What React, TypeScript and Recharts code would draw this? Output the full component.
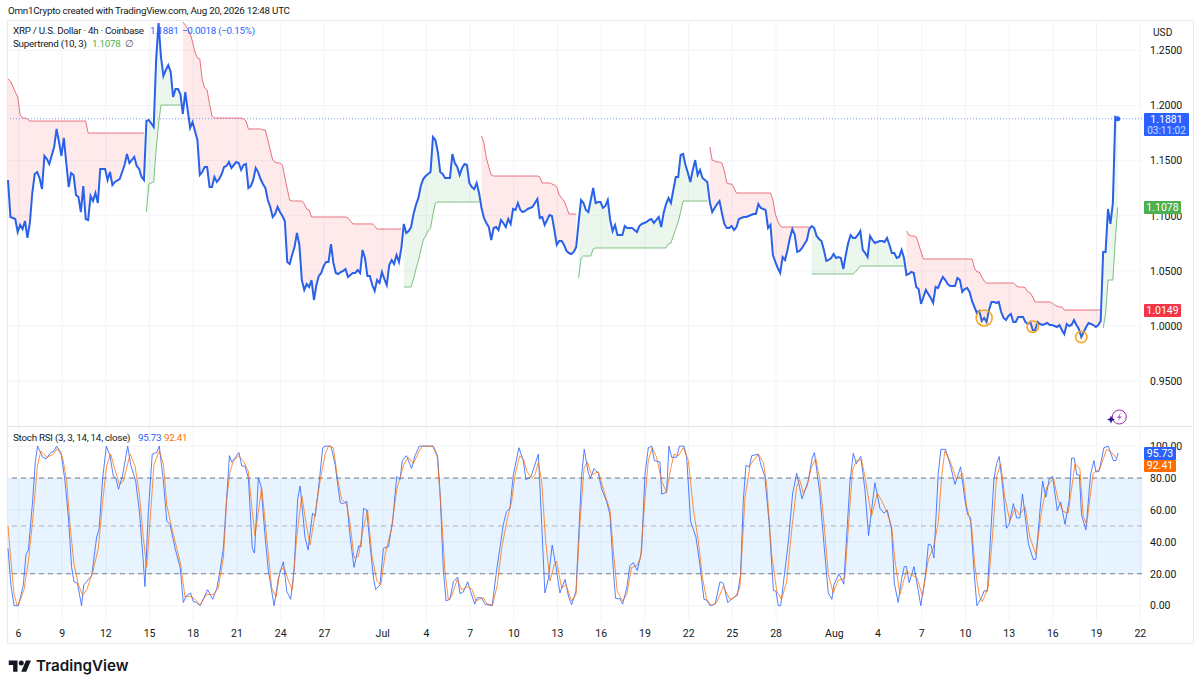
import React from 'react';
import { ComposedChart, Line, Area, XAxis, YAxis, CartesianGrid, ReferenceLine, ReferenceArea, ReferenceDot } from 'recharts';

// [bar, close, supertrend stop]
const bear1 = [[0,1.1325,1.2241],[1,1.0989,1.2223],[3,1.0971,1.2123],[4,1.0853,1.2078],[5,1.0917,1.1915],[6,1.088,1.1887],[7,1.0953,1.1887],[8,1.0799,1.1878],[9,1.0935,1.186],[10,1.1207,1.186],[11,1.1379,1.186],[12,1.1397,1.186],[13,1.1343,1.186],[14,1.1243,1.186],[15,1.1543,1.186],[16,1.1515,1.186],[17,1.147,1.186],[19,1.1624,1.186],[20,1.1788,1.186],[21,1.167,1.186],[22,1.1543,1.186],[23,1.1706,1.186],[24,1.1479,1.186],[25,1.1261,1.186],[26,1.1388,1.186],[27,1.137,1.186],[28,1.1189,1.186],[29,1.1171,1.186],[30,1.1034,1.186],[31,1.127,1.186],[32,1.0971,1.186],[33,1.0962,1.1751],[34,1.118,1.1751],[35,1.1134,1.1751],[36,1.1207,1.1751],[37,1.1116,1.1751],[38,1.1425,1.1751],[40,1.1425,1.1751],[41,1.1325,1.1751],[42,1.1397,1.1751],[43,1.1279,1.1751],[44,1.1307,1.1751],[46,1.1334,1.1751],[48,1.1461,1.1751],[49,1.1561,1.1751],[50,1.1479,1.1751],[52,1.1534,1.1751],[53,1.1452,1.1751],[54,1.1425,1.1751],[55,1.1352,1.1751],[56,1.1325,1.1751]];
const bull1 = [[57,1.186,1.1034],[58,1.1869,1.1289],[60,1.1806,1.1307],[61,1.2414,1.1597],[62,1.275,1.1833],[63,1.2441,1.2005],[64,1.2269,1.2005],[65,1.2323,1.2005],[66,1.2368,1.2005],[67,1.2305,1.2005],[68,1.2078,1.2005],[69,1.2151,1.2005],[70,1.2151,1.2005],[71,1.2105,1.2005]];
const bear2 = [[72,1.1924,1.2759],[73,1.2123,1.2731],[74,1.196,1.2695],[75,1.1797,1.2659],[76,1.1851,1.2577],[77,1.177,1.2486],[78,1.1688,1.2432],[79,1.137,1.2423],[80,1.1397,1.2232],[81,1.1443,1.216],[82,1.1443,1.2142],[83,1.1261,1.2015],[84,1.1261,1.1906],[85,1.1352,1.1887],[86,1.1307,1.1887],[87,1.1334,1.1887],[88,1.1379,1.1887],[89,1.1443,1.1887],[90,1.1452,1.1887],[91,1.1488,1.1887],[92,1.1434,1.1887],[93,1.1461,1.1887],[94,1.1488,1.1887],[95,1.1479,1.1887],[96,1.1416,1.1887],[97,1.1461,1.1878],[98,1.147,1.186],[99,1.1252,1.1787],[100,1.127,1.1788],[101,1.1325,1.1788],[102,1.1434,1.1788],[103,1.1397,1.1788],[104,1.1334,1.1788],[105,1.1289,1.1779],[106,1.1252,1.1779],[107,1.1143,1.1688],[108,1.108,1.1597],[109,1.0989,1.1506],[110,1.1016,1.1488],[111,1.108,1.1479],[112,1.1034,1.1479],[113,1.0998,1.1461],[114,1.0953,1.1352],[115,1.0581,1.1243],[116,1.0563,1.1143],[117,1.0644,1.1134],[118,1.0717,1.1134],[119,1.0844,1.1134],[120,1.0735,1.1134],[121,1.0417,1.1134],[122,1.0327,1.1107],[123,1.0381,1.1062],[124,1.0354,1.1053],[125,1.0417,1.0989],[126,1.0236,1.0989],[127,1.0372,1.0989],[128,1.0454,1.0989],[129,1.0481,1.0989],[130,1.0544,1.0989],[131,1.0581,1.0989],[132,1.0581,1.0989],[133,1.0744,1.0989],[134,1.0572,1.0989],[135,1.0481,1.0989],[136,1.0472,1.0989],[137,1.049,1.0989],[138,1.0499,1.0989],[139,1.0517,1.0989],[140,1.0445,1.098],[141,1.0463,1.0953],[142,1.0481,1.0926],[143,1.0481,1.0926],[144,1.0508,1.0926],[145,1.0481,1.0926],[146,1.069,1.0926],[147,1.0617,1.0926],[148,1.0454,1.0926],[149,1.0454,1.0926],[150,1.0372,1.0926],[151,1.0318,1.0907],[152,1.0417,1.088],[153,1.039,1.088],[154,1.049,1.088],[155,1.0426,1.088],[156,1.0372,1.088],[157,1.0554,1.088],[158,1.0599,1.088],[159,1.0563,1.088],[160,1.0644,1.088],[161,1.0581,1.088],[162,1.0708,1.088]];
const bull2 = [[163,1.0926,1.0354],[164,1.0844,1.0354],[165,1.0862,1.0354],[166,1.0898,1.0354],[167,1.1016,1.0426],[168,1.1098,1.0517],[169,1.1162,1.059],[170,1.127,1.069],[171,1.1334,1.078],[172,1.1361,1.0817],[173,1.1379,1.0862],[174,1.1397,1.0889],[175,1.1715,1.1016],[176,1.1688,1.1116],[177,1.1579,1.1125],[178,1.1397,1.1125],[179,1.1379,1.1125],[180,1.1343,1.1125],[181,1.1343,1.1125],[182,1.1343,1.1125],[183,1.1561,1.1125],[184,1.1479,1.1125],[185,1.1443,1.1125],[186,1.137,1.1125],[187,1.1434,1.1125],[188,1.147,1.1125],[189,1.1461,1.1125],[190,1.1298,1.1125],[191,1.1261,1.1125],[192,1.1243,1.1125],[193,1.1298,1.1125],[194,1.1207,1.1125]];
const bear3 = [[195,1.1071,1.1724],[196,1.098,1.1661],[197,1.0935,1.1525],[198,1.0898,1.1443],[199,1.078,1.137],[200,1.0889,1.1361],[201,1.0898,1.1361],[202,1.0871,1.1361],[203,1.0962,1.1361],[204,1.0935,1.1361],[205,1.0898,1.1361],[206,1.0971,1.1361],[207,1.0926,1.1361],[208,1.1062,1.1361],[209,1.1053,1.1361],[210,1.1116,1.1361],[211,1.1053,1.1361],[212,1.1034,1.1361],[213,1.1044,1.1361],[214,1.1062,1.1361],[215,1.1071,1.1361],[216,1.108,1.1361],[217,1.1116,1.1361],[218,1.1152,1.1361],[219,1.098,1.1352],[220,1.0989,1.1298],[221,1.0917,1.1298],[222,1.0962,1.1298],[223,1.1007,1.1298],[224,1.0998,1.1289],[225,1.0871,1.1279],[226,1.0735,1.1261],[227,1.0771,1.1189],[228,1.0771,1.1162],[229,1.0735,1.1134],[230,1.0681,1.108],[231,1.0662,1.1016],[232,1.0653,1.1016],[233,1.0672,1.1016],[234,1.0717,1.1016]];
const bull3 = [[235,1.0944,1.0436],[236,1.1143,1.0617],[237,1.1116,1.0635],[238,1.1053,1.0635],[239,1.1034,1.0635],[240,1.1143,1.0635],[241,1.1252,1.0699],[242,1.1116,1.0708],[243,1.1125,1.0708],[244,1.1125,1.0708],[245,1.1071,1.0708],[246,1.1089,1.0708],[247,1.1143,1.0708],[248,1.0962,1.0708],[249,1.0862,1.0708],[250,1.0917,1.0708],[251,1.0826,1.0708],[252,1.0826,1.0708],[253,1.0826,1.0708],[254,1.0907,1.0708],[255,1.0889,1.0708],[256,1.0889,1.0708],[257,1.0889,1.0708],[258,1.0871,1.0708],[259,1.0853,1.0708],[260,1.0907,1.0708],[261,1.0926,1.0708],[262,1.0935,1.0708],[263,1.0944,1.0708],[264,1.0962,1.0708],[265,1.0971,1.0708],[266,1.0935,1.0708],[267,1.0962,1.0708],[268,1.0989,1.0708],[269,1.0898,1.0708],[270,1.1025,1.0708],[271,1.1107,1.0708],[272,1.1162,1.0744],[273,1.1116,1.0753],[274,1.1234,1.0817],[275,1.1352,1.088],[276,1.1352,1.0944],[277,1.1552,1.1034],[278,1.1561,1.1134],[279,1.1461,1.1134],[280,1.1388,1.1134],[281,1.1307,1.1134],[282,1.1416,1.1134],[283,1.1506,1.1134],[284,1.137,1.1134],[285,1.1416,1.1134],[286,1.1343,1.1134],[287,1.1325,1.1134],[288,1.1307,1.1134]];
const bear4 = [[289,1.1125,1.1624],[290,1.1034,1.1506],[291,1.1071,1.1497],[292,1.1107,1.1488],[293,1.1134,1.1488],[294,1.1025,1.1479],[295,1.0926,1.1407],[296,1.0889,1.1298],[297,1.0889,1.1289],[298,1.0907,1.1289],[299,1.0871,1.1252],[300,1.0898,1.1207],[301,1.0971,1.1207],[302,1.098,1.1207],[303,1.0989,1.1207],[304,1.0989,1.1207],[305,1.0998,1.1207],[306,1.1007,1.1207],[307,1.1016,1.1207],[308,1.1016,1.1207],[309,1.1107,1.1207],[310,1.1071,1.1207],[311,1.1062,1.1207],[312,1.1053,1.1207],[313,1.0889,1.1207],[314,1.0917,1.1207],[315,1.0644,1.1143],[316,1.0581,1.1016],[317,1.0526,1.0953],[318,1.0481,1.0907],[319,1.0626,1.0898],[320,1.0599,1.0898],[321,1.069,1.0898],[322,1.0799,1.0898],[323,1.088,1.0898],[324,1.0826,1.0898],[325,1.0672,1.0898],[326,1.0681,1.0898],[327,1.0708,1.0898],[328,1.0744,1.0898],[329,1.078,1.0898],[330,1.088,1.0898]];
const bull4 = [[331,1.0907,1.0472],[332,1.0889,1.0472],[333,1.0817,1.0472],[334,1.079,1.0472],[335,1.0771,1.0472],[336,1.069,1.0472],[337,1.059,1.0472],[338,1.0599,1.0472],[339,1.0617,1.0472],[340,1.0653,1.0472],[341,1.0617,1.0472],[342,1.0626,1.0472],[343,1.0617,1.0472],[344,1.0517,1.0472],[345,1.0644,1.0472],[346,1.0753,1.0472],[347,1.0826,1.0472],[348,1.0799,1.0472],[349,1.0799,1.049],[350,1.0826,1.0517],[351,1.0862,1.0544],[352,1.069,1.0544],[353,1.0662,1.0544],[354,1.0626,1.0544],[355,1.0817,1.0544],[356,1.078,1.0544],[357,1.0753,1.0544],[358,1.0762,1.0544],[359,1.0771,1.0544],[360,1.0771,1.0544],[361,1.0762,1.0544],[362,1.0799,1.0544],[363,1.0735,1.0544],[364,1.0662,1.0544],[365,1.0662,1.0544],[366,1.0617,1.0544],[367,1.0626,1.0544],[368,1.069,1.0544],[369,1.0617,1.0544]];
const bear5 = [[370,1.0463,1.0862],[371,1.0472,1.0826],[372,1.049,1.0817],[373,1.0481,1.0817],[374,1.0354,1.0808],[375,1.0336,1.0744],[376,1.02,1.0672],[377,1.0263,1.0608],[378,1.0327,1.0608],[379,1.029,1.0608],[380,1.0254,1.0608],[381,1.0209,1.0608],[382,1.0354,1.0608],[383,1.0345,1.0608],[384,1.0399,1.0608],[385,1.0445,1.0608],[386,1.0417,1.0608],[387,1.0381,1.0608],[388,1.0363,1.0608],[389,1.0363,1.0608],[390,1.0363,1.0608],[391,1.0436,1.0608],[392,1.0417,1.0608],[393,1.0309,1.0608],[394,1.0336,1.0608],[395,1.0345,1.0608],[396,1.0309,1.0608],[397,1.0227,1.0608],[398,1.0172,1.0526],[399,1.0118,1.049],[400,1.0136,1.049],[401,1.0045,1.0445],[402,1.0073,1.0408],[403,1.0036,1.039],[404,1.0145,1.039],[405,1.0218,1.039],[406,1.0218,1.039],[407,1.0209,1.039],[408,1.0218,1.039],[409,1.0127,1.039],[410,1.0073,1.039],[411,1.0054,1.039],[412,1.0091,1.039],[413,1.0109,1.039],[414,1.0036,1.039],[415,1.0036,1.0372],[416,1.0082,1.0354],[417,1.0082,1.0354],[418,1.0082,1.0354],[419,1.0036,1.0345],[420,1.0018,1.0309],[421,1.0036,1.0299],[422,0.9964,1.0263],[423,0.9964,1.0218],[424,1.0036,1.0218],[425,1.0018,1.0218],[426,1.0009,1.0218],[427,1.0018,1.0218],[428,1.0027,1.0218],[429,1.0009,1.0218],[430,1.0009,1.0209],[431,1,1.0191],[432,0.9991,1.0181],[433,1.0009,1.0172],[434,0.9964,1.0172],[435,0.9927,1.0145],[436,1.0018,1.0145],[437,1,1.0145],[438,1.0009,1.0145],[439,1.0054,1.0145],[440,1.0009,1.0145],[441,0.9973,1.0145],[442,0.99,1.0145],[443,0.9946,1.0145],[444,0.9991,1.0145],[445,1.0027,1.0145],[446,1.0018,1.0145],[447,1.0009,1.0145],[448,0.9991,1.0145],[449,1.0009,1.0145],[450,1.0045,1.0149]];
const bull5 = [[451,1.0672,0.9982],[452,1.0672,1.0109],[453,1.1062,1.0417],[454,1.0926,1.0417],[455,1.1116,1.0417],[456,1.1897,1.078],[457,1.1881,1.1078]];

const stochK = [[0,36],[1.2,13],[2.5,0],[4.3,0],[6.3,13],[7.4,32],[8.4,35],[10,63],[11.3,91],[12.2,100],[14.3,93],[15.7,92],[17.6,96],[18.7,96.5],[20,100],[21.8,96],[23.5,78],[24.9,55],[26.2,24],[27.2,15],[28.6,14],[30.3,0],[31.2,13],[34.5,19],[36.5,43],[37.5,48],[39,80],[40.5,100],[42,94],[43.4,81],[44.4,80],[45.5,73],[47.1,81],[49.3,100],[50.5,88.5],[52.6,78],[54.1,59],[55.5,32],[56.4,12],[57.8,59],[59.4,95],[61.2,96],[62.3,100],[64,78],[65.4,53],[66.7,51],[68.8,36],[70.9,24],[72.2,2],[73.3,6],[75.2,8],[76.3,2.5],[77.7,2],[79.1,0],[80.7,5],[82.2,10],[84.3,4],[86,11],[87.3,22],[88.7,36],[91.2,94],[92.1,90],[93.2,92],[95.1,96],[96.3,87.5],[97.6,87.5],[99,80],[100.6,36],[101.5,33],[103.1,80],[104.2,75],[105.9,43],[107.2,22],[109.6,0],[111.4,17.5],[113.4,27.5],[114.8,9],[116.4,4],[117.8,22],[119.3,67],[120.3,75],[122.3,43],[123.6,35],[125.4,58],[126.5,56],[128.2,78],[129.6,99],[130.6,100],[133,100],[134.7,88.5],[136.8,64.5],[138.1,64],[139.5,65.5],[140.9,43],[142.5,24],[144.4,37.5],[145.4,37],[146.4,61],[147.7,60],[149.1,38],[150.5,17.5],[151.4,10],[153.2,13],[154.6,36],[156.7,37],[158.4,53],[160.1,81],[161.4,79],[162.4,91],[164.1,94],[166.2,86],[167.6,94],[169.4,100],[175.1,100],[176.9,94],[177.9,72],[179.3,22],[180.4,3],[182,4],[183.4,15],[185.2,18],[186.1,7.5],[187.5,8.6],[189.3,15],[190.5,9],[192.2,1],[193.3,5],[195,5],[196.4,1],[199.4,0],[201.2,22],[204,51],[205.3,59],[206.7,61],[208.1,82],[210.4,99],[212.2,91],[213.3,79],[215.4,81],[218.4,95],[219.8,51],[221.1,8],[222.5,16.5],[224.1,38],[225.7,24],[227.3,8],[229.4,16.5],[230.8,6],[232.1,0.6],[233.9,9],[236.2,81],[237.3,98],[239,83],[239.9,80],[241.3,86],[243.1,83],[244.5,73],[246.5,65.5],[247.9,57],[249.3,22],[250.2,4.6],[252,4.4],[253.1,1],[254.8,11],[256.1,25],[257.5,27],[259.2,22],[260.9,34],[262.3,82],[263.7,99],[265.1,100],[266.2,91],[268.5,90],[269.2,70],[271.2,71],[272.2,100],[273.3,93],[275.4,93],[276.5,100],[278.4,100],[279.5,93],[281.1,53],[283.3,43],[285,25],[286.6,4],[287.7,3.5],[289.1,0],[291.2,1],[293.2,15],[294.6,14],[296.4,2],[298.7,5],[300.4,6.5],[301.7,20],[302.8,65.5],[303.9,88],[305.3,87],[306.3,94],[309,95],[310.1,88],[311.7,81],[313.5,51],[315.2,9.6],[316.3,9],[317.2,0],[318.2,0],[321.4,40.5],[323.1,70],[324.8,83],[326,74],[327,67],[329.5,78],[331.2,92.5],[332.1,96],[334.3,70.5],[336,39],[337.8,8],[339.3,4],[340.1,13],[342.2,20],[344.2,13.5],[346.7,77],[348.1,95.5],[349.4,89],[351.2,93.5],[352.9,72.6],[354.4,44],[357,77],[359.1,61],[360.7,58],[362.1,60],[363.9,47.5],[365,14],[366.6,2],[368,17],[369.1,24.5],[370,24.5],[371.1,14.4],[373.1,24.5],[374.8,10],[375.9,0],[377.9,20],[379,38.5],[380.1,38],[381.3,30],[383.1,83],[384.2,98],[386.1,98],[387.9,89],[390,76],[392.3,87],[394.1,66],[395.2,57],[396.4,55],[397.8,22],[399,0],[400.9,5],[402,9.4],[403.3,9],[406,79],[407.1,89],[408.2,93.5],[409.6,75],[411.2,48.5],[412.3,51],[414,64],[415.4,55],[416.7,55],[417.8,70],[420.2,39],[422.2,29],[423.3,29],[425,60],[426.1,78],[427.4,68],[428.8,79.5],[430.2,81],[432.1,59.6],[433.5,65],[435.3,51],[437,66],[438,92.5],[439.1,92.5],[440.1,82],[441.2,82],[442.1,57],[443.9,47.5],[445.8,82],[447.2,91],[448,84],[449.3,84],[451.3,99],[453.1,100],[455.2,91],[456.3,91],[457.2,95.73]];
const stochD = [[0,50],[1.2,28],[2.5,7],[3.8,0],[5.2,4],[6.6,10],[8.4,28],[10,51],[12.1,87.5],[13.5,97],[16,93],[18.7,95],[20.3,98.5],[22.5,93],[24.2,78],[25.5,51],[27.2,26],[29,13],[30.8,6.5],[32.4,10],[34.9,21],[37.2,36],[39,65.5],[40.6,87.5],[42.3,95],[44.1,85],[45.9,76],[47.5,78],[50.3,95],[52.3,87.5],[54.1,70],[55.7,43],[57.1,24],[58.5,53],[60.1,88.5],[62.3,97],[64,88.5],[65.4,63],[67.4,49],[69.5,36],[71.1,26],[72.9,5.4],[75.2,6],[77,4],[79.1,0.5],[81.8,7],[84.6,7],[86.6,11],[88.7,30],[90,65.5],[91.4,84],[92.8,90.6],[94.9,94],[97,90.6],[99,84],[100.6,59],[101.7,44],[103.1,59],[104.5,74],[106.6,41.5],[108.6,11],[110.4,5.4],[112,22],[113.8,24],[115.5,15.5],[117.1,10],[118.9,43],[121,69],[122.8,51],[124.4,38],[126.5,58],[128.5,78],[130.6,95],[132,100],[134,99],[135.7,80],[137.4,66.6],[139.5,63.5],[140.9,51],[142.5,30],[144.3,31],[146.1,47],[148.1,60],[149.8,32],[151.9,15.5],[153.5,13],[155.3,32],[158,49],[160.1,73],[161.4,80],[163,88.5],[164.8,93],[166.9,89],[169.4,97],[170.7,100],[174.9,100],[176.8,93],[178.6,55],[179.9,22],[181.3,4],[182.7,6],[185,16.5],[186.8,10],[189.5,12],[191.2,10],[192.7,3],[195.7,5],[197.4,1],[199.6,0.5],[201.5,13],[203.3,36],[205.3,52],[207.4,65.5],[208.8,82],[210.7,94],[212.2,92],[213.8,84],[215.6,80],[217,82],[218.4,89.6],[219.8,78],[221.4,40.5],[223.2,15.5],[225,26],[225.9,28],[228,11],[229.8,13],[232.1,3],[233.9,7],[235.5,51],[237.2,86],[238.6,90],[240.3,82],[243.1,84],[245.8,70],[247.9,60],[249.3,34],[250.9,9],[253.1,3],[254.8,7],[256.8,24],[258.9,25],[260.5,30],[262.3,67],[263.7,91],[265.3,99],[267.1,93],[269.2,78],[271.2,71],[272.9,86],[274.3,95],[276.1,94],[278.1,99],[280.2,91],[282.2,61],[284.3,40.5],[286,17.5],[287.7,4],[289.8,0],[291.8,2],[294.6,12],[297.3,4],[299.4,5.4],[301.4,11],[303.5,67.6],[305.6,88],[309,95],[311.1,89.6],[312.4,76],[314.5,32],[316.6,9],[318.6,4],[320.7,15.5],[322.7,47],[324.8,74.6],[326,79],[327.5,70.5],[329.1,75],[330.9,87],[332.7,92],[334.3,79],[336,52],[337.8,20],[339.8,8],[341.9,16],[344.6,17],[346.3,54],[347.8,85],[349.4,91],[351.5,91.4],[353.1,79],[355.6,56],[358,70.5],[359.7,66],[362.1,58],[363.9,49.6],[365.2,29],[367.3,7],[370,22],[372.1,19],[374.2,18],[376.6,6],[379,29],[381,36],[383.1,52],[384.5,81],[385.8,97],[387.9,91],[390.6,79],[393.1,83],[394.8,62],[396.8,50],[398.2,24.5],[400,6],[401.3,2.5],[403.7,12],[405.5,45],[407.1,81],[408.8,89],[410.5,68],[412.6,53],[414.7,61],[416.7,57],[418.8,62],[420.8,43],[423.3,32],[425.7,60],[427.7,74],[430.5,80],[432.5,66],[434.6,59],[436.6,58],[439.4,89],[441.4,86],[442.8,56],[444.2,51],[446.9,83],[449.7,86],[452.4,98],[454.5,96],[456.5,92.41]];

const xTickBars = [4.3,22.3,40.3,58.3,76.3,94.3,112.3,130.3,154.3,172.3,190.3,208.3,226.3,244.3,262.3,280.3,298.3,316.3,340.3,358.3,376.3,394.3,412.3,430.3,448.3,466.3];
const xTickLabels = ['6','9','12','15','18','21','24','27','Jul','4','7','10','13','16','19','22','25','28','Aug','4','7','10','13','16','19','22'];
const priceTicks = [0.95,1,1.05,1.1,1.15,1.2,1.25];
const stochTicks = [0,20,40,60,80,100];
const highlightedLows = [[402,1.0073,8],[422,0.9994,5.7],[442,0.99,5.7]];
const lastPrice = 1.1881;
const lastBar = 457;

const bearBands = [bear1,bear2,bear3,bear4,bear5];
const bullBands = [bull1,bull2,bull3,bull4,bull5];
const rows = [
  ...bearBands.flatMap((b)=>b.map(([bar,close,stop])=>({bar,close,bear:stop,bull:null as number|null}))),
  ...bullBands.flatMap((b)=>b.map(([bar,close,stop])=>({bar,close,bull:stop,bear:null as number|null}))),
].sort((a,b)=>a.bar-b.bar);
const kRows = stochK.map(([bar,v])=>({bar,k:v}));
const dRows = stochD.map(([bar,v])=>({bar,d:v}));

const FONT = 'Roboto, "Noto Sans", sans-serif';
const txt = (left:number, top:number, s:string, color='#131722', size=9.8, extra:any={}) => (
  <div style={{position:'absolute',left,top,fontSize:size,letterSpacing:'-0.25px',lineHeight:'14px',color,fontFamily:FONT,whiteSpace:'nowrap',...extra}}>{s}</div>
);
const tag = (top:number, w:number, h:number, bg:string, s:string) => (
  <div style={{position:'absolute',left:1144,top,width:w,height:h,background:bg,color:'#fff',fontSize:10.5,lineHeight:`${h}px`,textAlign:'center',fontFamily:FONT,borderRadius:1}}>{s}</div>
);
const tickStyle = {fontSize:10.5,fill:'#131722',fontFamily:FONT};

export default function App(){
  return (
    <div style={{position:'absolute',left:0,top:0,width:1200,height:688,background:'#fff',overflow:'hidden'}}>
      <div style={{position:'absolute',left:7,top:20,width:1185,height:622,border:'1px solid #e9eaee'}}/>
      <div style={{position:'absolute',left:8,top:426,width:1184,height:1,background:'#e4e5ea'}}/>
      <div style={{position:'absolute',left:0,top:0}}>
        <ComposedChart width={1200} height={426} data={rows} margin={{top:20,right:0,bottom:1,left:8}}>
          <CartesianGrid stroke="#f3f4f8" verticalValues={xTickBars} horizontalValues={priceTicks}/>
          <XAxis type="number" dataKey="bar" domain={[0,467]} hide/>
          <YAxis type="number" orientation="right" width={58} domain={[0.91016,1.27768]} ticks={priceTicks} interval={0} tickFormatter={(v:number)=>v.toFixed(4)} axisLine={false} tickLine={false} tick={tickStyle} tickMargin={2}/>
          <ReferenceLine y={lastPrice} stroke="#2962ff" strokeOpacity={0.6} strokeDasharray="1 2"/>
          <Area dataKey={(r:any)=>r.bear==null?null:[r.bear,r.close]} fill="#f23645" fillOpacity={0.11} stroke="none" dot={false} activeDot={false} isAnimationActive={false} type="linear"/>
          <Area dataKey={(r:any)=>r.bull==null?null:[r.bull,r.close]} fill="#4caf50" fillOpacity={0.11} stroke="none" dot={false} activeDot={false} isAnimationActive={false} type="linear"/>
          <Line dataKey="bear" stroke="#e9707c" strokeWidth={1} dot={false} activeDot={false} isAnimationActive={false} type="linear"/>
          <Line dataKey="bull" stroke="#7fbf82" strokeWidth={1} dot={false} activeDot={false} isAnimationActive={false} type="linear"/>
          <Line dataKey="close" stroke="#2962e8" strokeWidth={2} dot={false} activeDot={false} isAnimationActive={false} type="linear"/>
          {highlightedLows.map(([b,p,r])=>(
            <ReferenceDot key={b} x={b} y={p} r={r} fill="#ff9800" fillOpacity={0.08} stroke="#f5a52a" strokeWidth={1.6}/>
          ))}
          <ReferenceDot x={lastBar} y={lastPrice} r={2.5} fill="#2962ff" stroke="none"/>
        </ComposedChart>
      </div>
      <div style={{position:'absolute',left:0,top:427}}>
        <ComposedChart width={1200} height={215} margin={{top:0,right:0,bottom:0,left:8}}>
          <CartesianGrid stroke="#f3f4f8" verticalValues={xTickBars} horizontalValues={stochTicks}/>
          <XAxis type="number" dataKey="bar" domain={[0,467]} ticks={xTickBars} interval={0} height={21} tickFormatter={(v:number)=>xTickLabels[xTickBars.indexOf(v)]} axisLine={false} tickLine={false} tick={tickStyle} tickMargin={3}/>
          <YAxis type="number" orientation="right" width={58} domain={[-9.6,112]} ticks={stochTicks} interval={0} tickFormatter={(v:number)=>v.toFixed(2)} axisLine={false} tickLine={false} tick={tickStyle} tickMargin={2}/>
          <ReferenceArea y1={20} y2={80} fill="#2196f3" fillOpacity={0.11} stroke="none"/>
          <ReferenceLine y={80} stroke="#787b86" strokeDasharray="5 4"/>
          <ReferenceLine y={50} stroke="#787b86" strokeOpacity={0.5} strokeDasharray="5 4"/>
          <ReferenceLine y={20} stroke="#787b86" strokeDasharray="5 4"/>
          <Line data={kRows} dataKey="k" stroke="#2962ff" strokeOpacity={0.8} strokeWidth={1} dot={false} activeDot={false} isAnimationActive={false} type="linear"/>
          <Line data={dRows} dataKey="d" stroke="#ff6d00" strokeOpacity={0.75} strokeWidth={1} dot={false} activeDot={false} isAnimationActive={false} type="linear"/>
        </ComposedChart>
      </div>

      {txt(8,4,'Omn1Crypto created with TradingView.com, Aug 20, 2026 12:48 UTC')}
      {txt(13,24,'XRP / U.S. Dollar · 4h · Coinbase')}
      {txt(150,24,'1.1881',"#2962ff")}
      {txt(182,24,'−0.0018 (−0.15%)',"#2962ff")}
      {txt(13,37,'Supertrend (10, 3)')}
      {txt(92,37,'1.1078',"#4caf50")}
      {txt(125,37,'∅',"#555")}
      {txt(13,431,'Stoch RSI (3, 3, 14, 14, close)')}
      {txt(138,431,'95.73',"#2962ff")}
      {txt(164,431,'92.41',"#ff6d00")}
      {txt(1153,26,'USD','#131722',10.2,{letterSpacing:0})}

      <div style={{position:'absolute',left:1144,top:113,width:45,height:23,background:'#2962ff',color:'#fff',fontFamily:FONT,textAlign:'center',fontSize:10.5,lineHeight:'11px',paddingTop:1,boxSizing:'border-box',borderRadius:1}}>
        <div>1.1881</div><div style={{opacity:.75,fontSize:10}}>03:11:02</div>
      </div>
      {tag(201,37,13,'#4caf50','1.1078')}
      {tag(304,37,13,'#f23645','1.0149')}
      {tag(447,32,13,'#2962ff','95.73')}
      {tag(460,32,12,'#ff6d00','92.41')}

      <svg style={{position:'absolute',left:1106,top:407}} width={24} height={20} viewBox="0 0 24 20">
        <circle cx={13.3} cy={10} r={7} fill="#fff" stroke="#9c27b0" strokeWidth={1}/>
        <path d="M15 5.5 L11 11 L13.5 11 L11.5 14.5 L16 9.5 L13.5 9.5 Z" fill="#b45cc8"/>
        <path d="M5 8.5 L6.2 11.3 L9 12.5 L6.2 13.7 L5 16.5 L3.8 13.7 L1 12.5 L3.8 11.3 Z" fill="#311b92"/>
      </svg>
      <svg style={{position:'absolute',left:8,top:658}} width={24} height={15} viewBox="0 0 36 24">
        <path d="M14 22H7V11H0V4h14v18zM28 22h-8l7.5-18h8L28 22z" fill="#131722"/>
        <circle cx={20} cy={8} r={4} fill="#131722"/>
      </svg>
      {txt(36,656,'TradingView','#131722',15.2,{fontFamily:'Inter, Roboto, sans-serif',fontWeight:600,lineHeight:'20px',letterSpacing:0})}
    </div>
  );
}
